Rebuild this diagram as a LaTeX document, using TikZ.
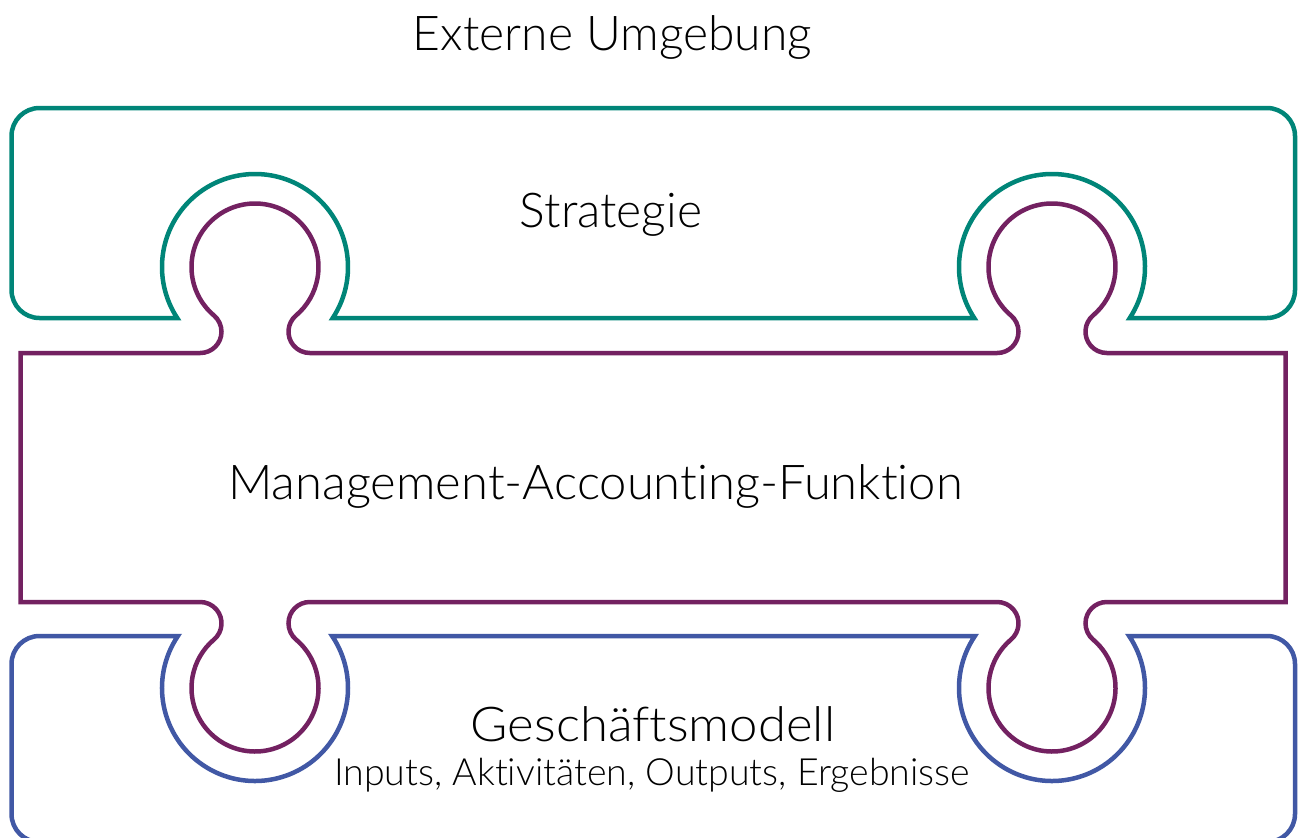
\documentclass[tikz,border=0pt]{standalone}
\usepackage{fontspec}
\setmainfont{Lato Light}[Ligatures={NoCommon,NoRare}]
\definecolor{stratcol}{RGB}{0,133,120}
\definecolor{macol}{RGB}{115,33,97}
\definecolor{gmcol}{RGB}{65,88,165}
\tikzset{
  piece/.style={line width=4.5pt, fill=none},
  biglabel/.style={font=\fontsize{48}{58}\selectfont, anchor=base, inner sep=0pt},
  smalllabel/.style={font=\fontsize{37.5}{45}\selectfont, anchor=base, inner sep=0pt}
}
\begin{document}
\begin{tikzpicture}[x=1pt,y=1pt]
\useasboundingbox (0,0) rectangle (1299,-838);
\clip (0,0) rectangle (1299,-838);

% upper piece: strategy, with two sockets in its lower edge
\draw[piece, draw=stratcol]
  (11.5,-136) arc[start angle=180,end angle=90,radius=28]
  -- (1267,-108) arc[start angle=90,end angle=0,radius=28]
  -- (1295,-290) arc[start angle=0,end angle=-90,radius=28]
  -- (1129.77,-318) arc[start angle=-33.25,end angle=213.25,radius=93]
  -- (332.77,-318) arc[start angle=-33.25,end angle=213.25,radius=93]
  -- (39.5,-318) arc[start angle=270,end angle=180,radius=28]
  -- cycle;

% middle piece: four knobs reaching into the neighbours
\draw[piece, draw=macol]
  (20.5,-353)
  -- (200.21,-353) arc[start angle=-90,end angle=49.75,radius=21.29]
  arc[start angle=229.75,end angle=-49.75,radius=63.5]
  arc[start angle=130.25,end angle=270,radius=21.29]
  -- (997.21,-353) arc[start angle=-90,end angle=49.75,radius=21.29]
  arc[start angle=229.75,end angle=-49.75,radius=63.5]
  arc[start angle=130.25,end angle=270,radius=21.29]
  -- (1285.5,-353) -- (1285.5,-602)
  -- (1106.79,-602) arc[start angle=90,end angle=229.75,radius=21.29]
  arc[start angle=49.75,end angle=-229.75,radius=63.5]
  arc[start angle=-49.75,end angle=90,radius=21.29]
  -- (309.79,-602) arc[start angle=90,end angle=229.75,radius=21.29]
  arc[start angle=49.75,end angle=-229.75,radius=63.5]
  arc[start angle=-49.75,end angle=90,radius=21.29]
  -- (20.5,-602) -- cycle;

% lower piece: business model, with two sockets in its upper edge
\draw[piece, draw=gmcol]
  (11.5,-664) arc[start angle=180,end angle=90,radius=28]
  -- (177.9,-636) arc[start angle=146,end angle=394,radius=93]
  -- (974.9,-636) arc[start angle=146,end angle=394,radius=93]
  -- (1267,-636) arc[start angle=90,end angle=0,radius=28]
  -- (1295,-814) arc[start angle=0,end angle=-90,radius=28]
  -- (39.5,-842) arc[start angle=270,end angle=180,radius=28]
  -- cycle;

\node[biglabel] (ext) at (612.5,-50) {Externe Umgebung};
\node[biglabel] (strat) at (611,-227) {Strategie};
\node[biglabel, xscale=1.02] (maf) at (595.5,-499) {Management-Accounting-Funktion};
\node[biglabel, xscale=1.06] (gm) at (653,-741) {Geschäftsmodell};
\node[smalllabel] (gmsub) at (652,-785) {Inputs, Aktivitäten, Outputs, Ergebnisse};
\end{tikzpicture}
\end{document}
